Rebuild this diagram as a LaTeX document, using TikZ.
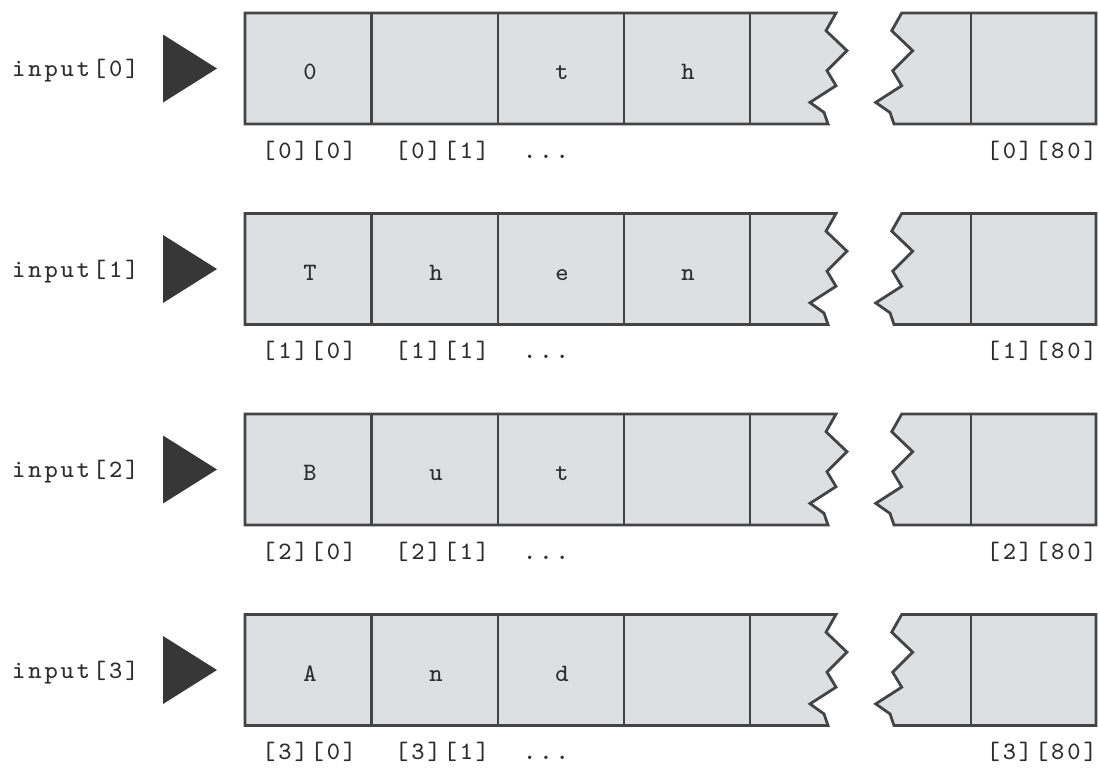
\documentclass[tikz,border=0pt]{standalone}
\usepackage{fontspec}
\newfontfamily\lmcour{lmmono8-regular.otf}[LetterSpace=11.5]
\definecolor{cellfill}{RGB}{221,223,225}
\definecolor{edge}{RGB}{68,68,68}
\definecolor{ink}{RGB}{45,45,45}
\definecolor{arrowfill}{RGB}{55,55,55}
\tikzset{
  cellline/.style={draw=edge, line width=2.8pt, line join=miter},
  piece/.style={cellline, fill=cellfill},
  txt/.style={inner sep=0pt, text=ink, font=\lmcour\fontsize{25}{25}\selectfont},
  pointer/.style={fill=arrowfill, draw=none},
}
\begin{document}
\begin{tikzpicture}[x=1pt,y=-1pt]
\useasboundingbox (0,0) rectangle (1099,769);
\foreach \r/\a/\b/\c/\d [count=\i from 0] in {0/0/{}/t/h, 1/T/h/e/n, 2/B/u/t/{}, 3/A/n/d/{}}{
  \pgfmathsetmacro{\t}{13+200.5*\i}
  \pgfmathsetmacro{\bt}{\t+111}
  \pgfmathsetmacro{\m}{\t+55.5}
  % left piece
  \draw[piece] (245,\t) -- (836,\t) -- (826,\t+17.7) -- (847,\t+37.7) -- (827,\t+57.7)
     -- (836,\t+72.7) -- (810,\t+89.4) -- (824,\t+99.4) -- (828,\bt) -- (245,\bt) -- cycle;
  % right piece
  \draw[piece] (901.7,\t) -- (1096,\t) -- (1096,\bt) -- (894,\bt) -- (890,\t+99.4)
     -- (875.7,\t+89.4) -- (901.7,\t+72.7) -- (892.7,\t+57.7) -- (912.7,\t+37.7)
     -- (891.7,\t+17.7) -- cycle;
  % dividers
  \foreach \x in {371.5,498,624,750,971}{
    \draw[cellline] (\x,\t) -- (\x,\bt);
  }
  % row name and pointer
  \node[txt, anchor=base west] (name\i) at (12,\m+8) {input[\r]};
  \path[pointer] (163,\m-34) -- (217,\m) -- (163,\m+34) -- cycle;
  % cell contents
  \node[txt, anchor=base] (c\i a) at (310,\m+11) {\a};
  \node[txt, anchor=base] (c\i b) at (436,\m+11) {\b};
  \node[txt, anchor=base] (c\i c) at (562,\m+11) {\c};
  \node[txt, anchor=base] (c\i d) at (688,\m+11) {\d};
  % index labels
  \node[txt, anchor=base west] (l\i a) at (262,\bt+34) {[\r][0]};
  \node[txt, anchor=base west] (l\i b) at (395,\bt+34) {[\r][1]};
  \node[txt, anchor=base west] (l\i c) at (523,\bt+34) {...};
  \node[txt, anchor=base east] (l\i d) at (1097,\bt+34) {[\r][80]};
}
\end{tikzpicture}
\end{document}
